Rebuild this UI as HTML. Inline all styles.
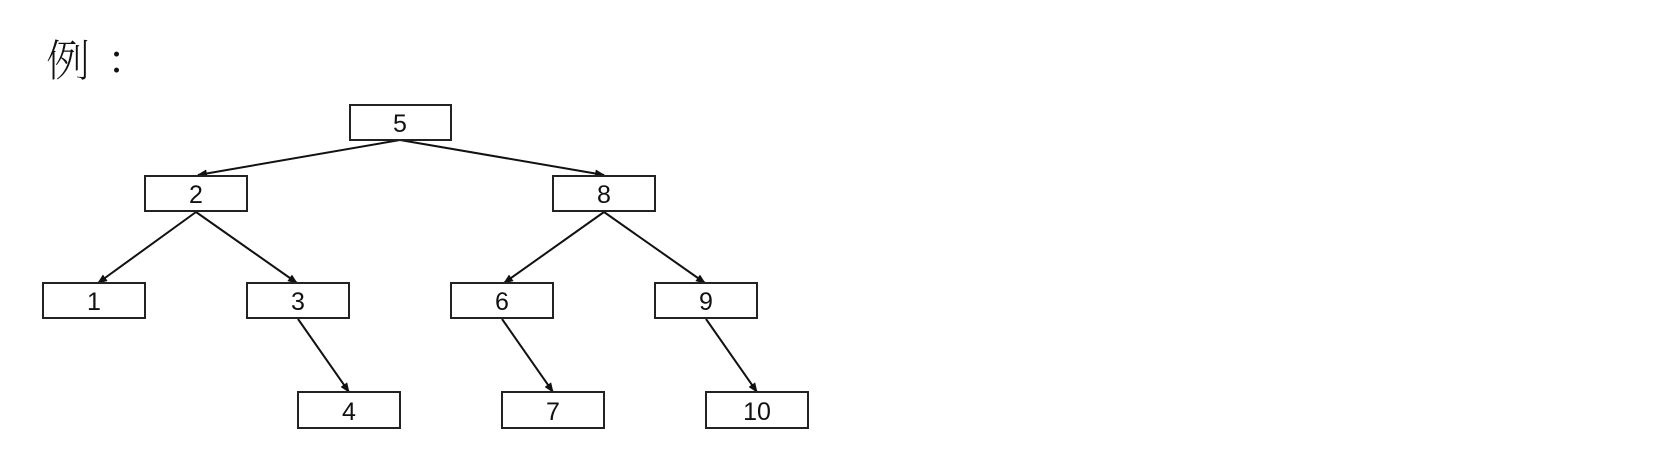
<!DOCTYPE html>
<html><head><meta charset="utf-8"><style>
html,body{margin:0;padding:0;background:#fff;width:1656px;height:476px;overflow:hidden}
svg{position:absolute;left:0;top:0}
</style></head><body>
<svg width="1656" height="476" viewBox="0 0 1656 476" xmlns="http://www.w3.org/2000/svg">
<defs><marker id="a" markerWidth="10" markerHeight="8" refX="9" refY="4" orient="auto" markerUnits="userSpaceOnUse"><path d="M0,0 L10,4 L0,8 z" fill="#111"/></marker></defs>
<text x="46" y="76" font-family="'Noto Serif CJK SC','WenQuanYi Zen Hei',serif" font-weight="200" font-size="44" fill="#111">例</text>
<text x="110" y="72" font-family="'Noto Serif CJK SC',serif" font-size="40" fill="#111">:</text>
<g stroke="#111" stroke-width="2" fill="none" marker-end="url(#a)">
<line x1="400" y1="140" x2="198" y2="175"/>
<line x1="400" y1="140" x2="604" y2="175"/>
<line x1="196" y1="212" x2="98" y2="283"/>
<line x1="196" y1="212" x2="297" y2="283"/>
<line x1="604" y1="212" x2="504" y2="283"/>
<line x1="604" y1="212" x2="705" y2="283"/>
<line x1="298" y1="319" x2="349" y2="392"/>
<line x1="502" y1="319" x2="553" y2="392"/>
<line x1="706" y1="319" x2="757" y2="392"/>
</g>
<g stroke="#222" stroke-width="2" fill="#fff">
<rect x="350" y="105" width="101" height="35"/>
<rect x="145" y="176" width="102" height="35"/>
<rect x="553" y="176" width="102" height="35"/>
<rect x="43" y="283" width="102" height="35"/>
<rect x="247" y="283" width="102" height="35"/>
<rect x="451" y="283" width="102" height="35"/>
<rect x="655" y="283" width="102" height="35"/>
<rect x="298" y="392" width="102" height="36"/>
<rect x="502" y="392" width="102" height="36"/>
<rect x="706" y="392" width="102" height="36"/>
</g>
<g font-family="'Liberation Sans',sans-serif" font-size="25" fill="#111" text-anchor="middle">
<text x="400" y="132">5</text>
<text x="196" y="203">2</text>
<text x="604" y="203">8</text>
<text x="94" y="310">1</text>
<text x="298" y="310">3</text>
<text x="502" y="310">6</text>
<text x="706" y="310">9</text>
<text x="349" y="420">4</text>
<text x="553" y="420">7</text>
<text x="757" y="420">10</text>
</g>
</svg>
</body></html>
